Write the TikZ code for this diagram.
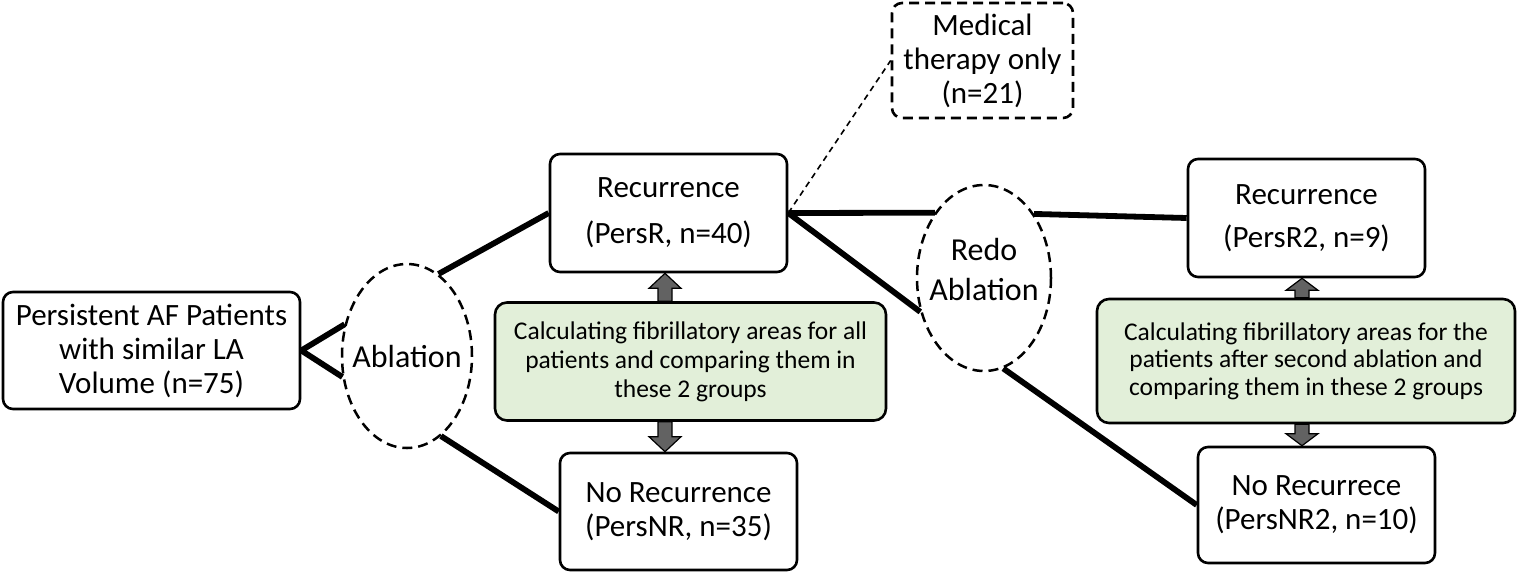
\documentclass[tikz,border=0pt]{standalone}
\usepackage{fontspec}
\setmainfont{Carlito}
\usetikzlibrary{shapes.geometric,calc}
\definecolor{gfill}{RGB}{226,239,217}
\definecolor{agray}{RGB}{98,98,98}
\begin{document}
\begin{tikzpicture}[x=1pt,y=-1pt,
  box/.style={draw, line width=2.6pt, rounded corners=10pt, align=center, inner sep=0pt,
    minimum width=237pt, minimum height=117pt, font=\fontsize{31}{34}\selectfont},
  dbox/.style={box, dash pattern=on 10pt off 6pt},
  gbox/.style={draw, line width=2.6pt, rounded corners=12pt, fill=gfill, align=center, inner sep=0pt,
    minimum height=118pt, font=\fontsize{25.5}{29}\selectfont},
  ellbox/.style={ellipse, draw, line width=2.5pt, dash pattern=on 10pt off 6pt, inner sep=0pt},
  etext/.style={align=center, inner sep=0pt, font=\fontsize{32}{40}\selectfont},
  conn/.style={line width=5.8pt},
  thinconn/.style={line width=1.6pt, dash pattern=on 6pt off 4.5pt},
  fatarr/.style={draw=black, line width=1.2pt, fill=agray}
]
\useasboundingbox (0,0) rectangle (1519,574);

% nodes
\node[box, minimum width=297pt] (p0) at (151.5,350.5) {Persistent AF Patients\\with similar LA\\Volume (n=75)};
\node[ellbox, minimum width=130pt, minimum height=184pt] (e1) at (407,356) {};
\node[etext] (e1t) at (407,357) {Ablation};

\node[box, minimum height=118pt] (r1) at (668.5,213) {Recurrence\\[12pt](PersR, n=40)};
\node[box] (n1) at (678.5,511.5) {No Recurrence\\(PersNR, n=35)};
\node[gbox, minimum width=391pt] (g1) at (690.5,361.5) {Calculating fibrillatory areas for all\\patients and comparing them in\\these 2 groups};

\node[dbox, minimum width=181pt, minimum height=115pt] (m) at (982.5,60.5) {Medical\\therapy only\\(n=21)};

\node[ellbox, minimum width=134pt, minimum height=186pt] (e2) at (984,278) {};
\node[etext] (e2t) at (984,270) {Redo\\Ablation};

\node[box, minimum height=118pt] (r2) at (1306.5,218) {Recurrence\\[9pt](PersR2, n=9)};
\node[box, minimum height=116pt] (n2) at (1316.5,505) {No Recurrece\\(PersNR2, n=10)};
\node[gbox, minimum width=418pt, minimum height=124pt, font=\fontsize{25.5}{27.5}\selectfont] (g2) at (1306,361) {Calculating fibrillatory areas for the\\patients after second ablation and\\comparing them in these 2 groups};

% connectors
\draw[conn] (p0.east) -- (e1.153);
\draw[conn] (p0.east) -- (e1.198);
\draw[conn] (e1.69) -- (r1.west);
\draw[conn] (e1.293) -- (n1.west);
\draw[thinconn] (r1.east) -- (m.west);
\draw[conn] (r1.east) -- (e2.127);
\draw[conn] (r1.east) -- (e2.208);
\draw[conn] (e2.52) -- (r2.west);
\draw[conn] (e2.282) -- (n2.west);

% fat arrows
\coordinate (ax1) at (665,0);
\coordinate (ax2) at (1302,0);
\draw[fatarr] let \p1=(g1.north -| ax1), \p2=(r1.south -| ax1) in
  (\x1-7pt,\y1) -- (\x1-7pt,\y2-15pt) -- (\x1-16pt,\y2-15pt) -- (\x2,\y2)
  -- (\x1+16pt,\y2-15pt) -- (\x1+7pt,\y2-15pt) -- (\x1+7pt,\y1) -- cycle;
\draw[fatarr] let \p1=(g1.south -| ax1), \p2=(n1.north -| ax1) in
  (\x1-7pt,\y1) -- (\x1-7pt,\y2+15pt) -- (\x1-16pt,\y2+15pt) -- (\x2,\y2)
  -- (\x1+16pt,\y2+15pt) -- (\x1+7pt,\y2+15pt) -- (\x1+7pt,\y1) -- cycle;
\draw[fatarr] let \p1=(g2.north -| ax2), \p2=(r2.south -| ax2) in
  (\x1-7pt,\y1) -- (\x1-7pt,\y2-12pt) -- (\x1-16pt,\y2-12pt) -- (\x2,\y2)
  -- (\x1+16pt,\y2-12pt) -- (\x1+7pt,\y2-12pt) -- (\x1+7pt,\y1) -- cycle;
\draw[fatarr] let \p1=(g2.south -| ax2), \p2=(n2.north -| ax2) in
  (\x1-7pt,\y1) -- (\x1-7pt,\y2+12pt) -- (\x1-16pt,\y2+12pt) -- (\x2,\y2)
  -- (\x1+16pt,\y2+12pt) -- (\x1+7pt,\y2+12pt) -- (\x1+7pt,\y1) -- cycle;
\end{tikzpicture}
\end{document}
